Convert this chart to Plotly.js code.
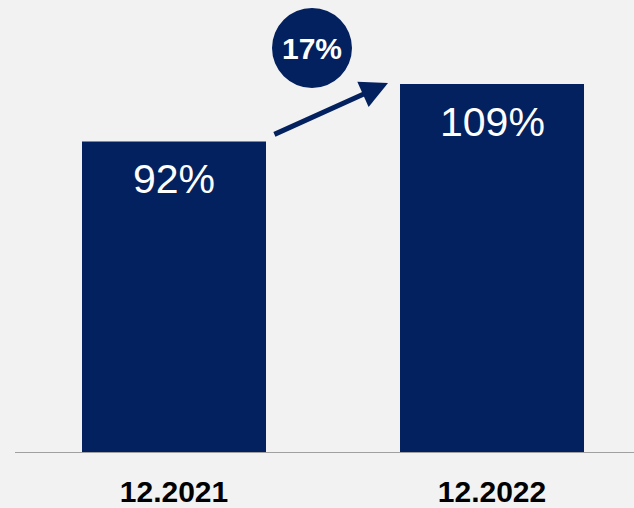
<!DOCTYPE html>
<html>
<head>
<meta charset="utf-8">
<script src="https://cdn.plot.ly/plotly-3.0.1.min.js"></script>
<style>html,body{margin:0;padding:0;background:#f2f2f2;}#chart{width:634px;height:508px;}</style>
</head>
<body>
<div id="chart"></div>
<script>
const categories = ['12.2021', '12.2022'];
const values = [92, 109];
const valueLabels = ['92%', '109%'];
const changeLabel = '17%';

const NAVY = '#03215f';
const FONT = 'Liberation Sans, Arial, sans-serif';

const trace = {
  type: 'bar',
  x: categories,
  y: values,
  marker: {color: NAVY},
  hoverinfo: 'none'
};

const annotations = categories.map((c, i) => ({
  x: i, y: values[i], xref: 'x', yref: 'y',
  text: valueLabels[i], showarrow: false,
  xanchor: 'center', yanchor: 'middle', yshift: -38,
  font: {family: FONT, size: 41, color: '#ffffff'}
}));

// growth arrow
annotations.push({
  xref: 'x', yref: 'y', axref: 'x', ayref: 'y',
  x: 0.673, y: 109.3, ax: 0.311, ay: 93.9,
  text: '', showarrow: true,
  arrowhead: 2, arrowsize: 1.1, arrowwidth: 5, arrowcolor: NAVY
});
// change label inside circle
annotations.push({
  xref: 'paper', yref: 'paper', x: 0.4798, y: 0.8938,
  text: '<b>' + changeLabel + '</b>', showarrow: false,
  xanchor: 'center', yanchor: 'middle',
  font: {family: FONT, size: 30, color: '#ffffff'}
});

const layout = {
  width: 634, height: 508,
  margin: {l: 15, r: 0, t: 0, b: 56},
  paper_bgcolor: '#f2f2f2', plot_bgcolor: '#f2f2f2',
  bargap: 0.4214,
  showlegend: false,
  xaxis: {
    type: 'category',
    range: [-0.5, 1.4465],
    showline: true, linecolor: '#a0a0a0', linewidth: 1,
    showgrid: false, zeroline: false, ticks: '',
    ticklabelstandoff: 13,
    tickfont: {family: FONT, size: 30, color: '#000000', weight: 'bold'}
  },
  yaxis: {
    range: [0, 133.9], visible: false, showgrid: false, zeroline: false
  },
  shapes: [{
    type: 'circle', xref: 'paper', yref: 'paper',
    x0: 0.4152, x1: 0.5444, y0: 0.8053, y1: 0.9823,
    fillcolor: NAVY, line: {width: 0}, layer: 'above'
  }],
  annotations: annotations
};

Plotly.newPlot('chart', [trace], layout, {displayModeBar: false, staticPlot: true});
</script>
</body>
</html>
